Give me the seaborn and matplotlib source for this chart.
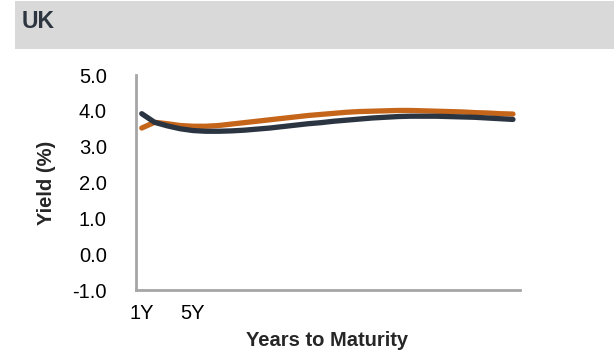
import numpy as np
import pandas as pd
import matplotlib
matplotlib.use("Agg")
import matplotlib.pyplot as plt
from matplotlib.patches import Rectangle
import seaborn as sns

# UK yield curves (two dates), maturities 1Y..30Y
years = list(range(1, 31))
curve_a = [3.52, 3.68, 3.64, 3.59, 3.57, 3.57, 3.59, 3.63, 3.67, 3.71,
           3.75, 3.79, 3.83, 3.87, 3.90, 3.93, 3.96, 3.98, 3.99, 4.00,
           4.01, 4.01, 4.00, 3.99, 3.98, 3.97, 3.95, 3.94, 3.92, 3.91]
curve_b = [3.92, 3.68, 3.58, 3.50, 3.45, 3.43, 3.43, 3.44, 3.46, 3.49,
           3.52, 3.56, 3.60, 3.64, 3.67, 3.71, 3.74, 3.77, 3.80, 3.82,
           3.84, 3.85, 3.85, 3.85, 3.84, 3.83, 3.82, 3.80, 3.78, 3.76]
series_names = ["Current", "Previous"]
y_ticks = [-1.0, 0.0, 1.0, 2.0, 3.0, 4.0, 5.0]
x_ticks = [1, 5]
x_tick_labels = ["1Y", "5Y"]

df = pd.DataFrame({
    "years": years * 2,
    "yield": curve_a + curve_b,
    "series": [series_names[0]] * len(years) + [series_names[1]] * len(years),
})

sns.set_style("white")
plt.rcParams["font.family"] = ["Liberation Sans", "DejaVu Sans"]

W, H = 614, 357
fig = plt.figure(figsize=(W / 100, H / 100), dpi=100)

# grey header band
fig.patches.append(Rectangle((15 / W, 1 - 49 / H), 1 - 15 / W, 48 / H,
                             transform=fig.transFigure, facecolor="#d9d9d9",
                             edgecolor="none", zorder=0))
fig.text(22 / W, 1 - 22 / H, "UK", fontsize=16.5, fontweight="bold",
         color="#2d3540", va="center", ha="left")

ax = fig.add_axes([136 / W, (H - 290) / H, (520 - 136) / W, (290 - 75) / H])
sns.lineplot(data=df, x="years", y="yield", hue="series",
             palette=["#c5651a", "#2b3542"], linewidth=3.8, ax=ax,
             legend=False)

ax.set_xlim(0.55, 30.55)
ax.set_ylim(-1.0, 5.0)
ax.set_yticks(y_ticks)
ax.set_yticklabels([f"{v:.1f}" for v in y_ticks])
ax.set_xticks(x_ticks)
ax.set_xticklabels(x_tick_labels)
ax.tick_params(axis="y", length=0, pad=21, labelsize=14.5, labelcolor="black")
ax.tick_params(axis="x", length=0, pad=10, labelsize=14.5, labelcolor="black")

for s in ["top", "right"]:
    ax.spines[s].set_visible(False)
for s in ["left", "bottom"]:
    ax.spines[s].set_color("#a6a6a6")
    ax.spines[s].set_linewidth(2)

ax.set_xlabel("")
ax.set_ylabel("")
fig.text(46.5 / W, 1 - 183 / H, "Yield (%)", rotation=90, fontsize=14.5,
         fontweight="bold", ha="center", va="center")
fig.text(327 / W, 1 - 340 / H, "Years to Maturity", fontsize=14.5,
         fontweight="bold", ha="center", va="center")

fig.savefig("out.png", dpi=100)
